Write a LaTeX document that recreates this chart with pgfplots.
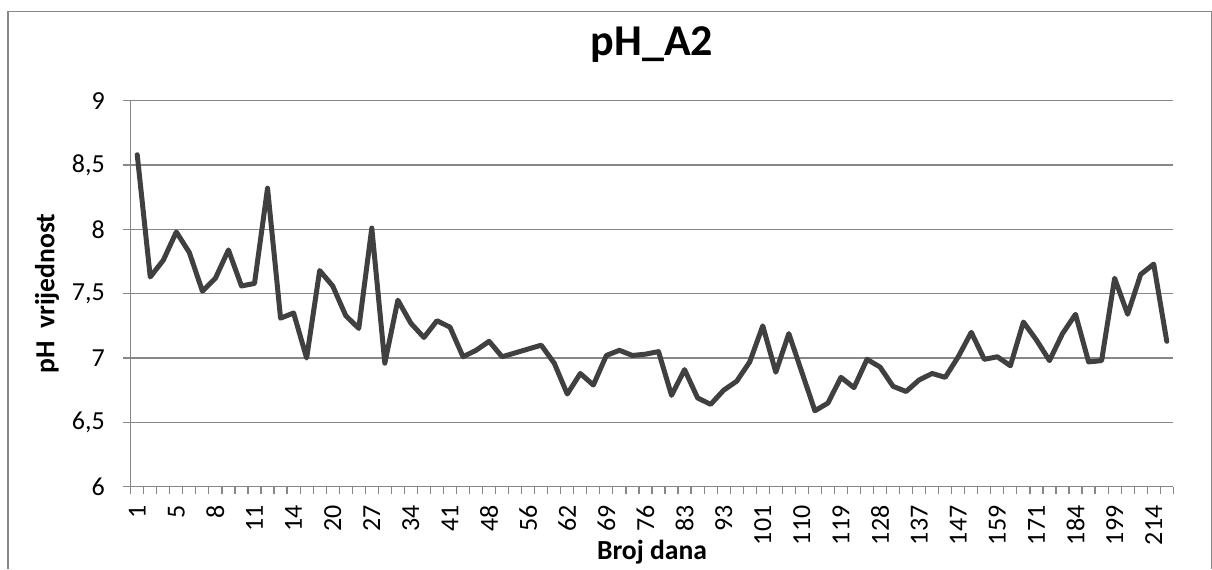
\documentclass[border=0pt]{standalone}
\usepackage{fontspec}
\setmainfont{Carlito}
\usepackage{pgfplots}
\pgfplotsset{compat=1.18}
\definecolor{gridgray}{HTML}{878787}
\definecolor{linegray}{HTML}{404040}
\pgfplotstableread{
x y
1 8.58
2 7.63
3 7.76
4 7.98
5 7.82
6 7.52
7 7.62
8 7.84
9 7.56
10 7.58
11 8.32
12 7.31
13 7.35
14 7.00
15 7.68
16 7.56
17 7.33
18 7.23
19 8.01
20 6.96
21 7.45
22 7.27
23 7.16
24 7.29
25 7.24
26 7.01
27 7.06
28 7.13
29 7.01
30 7.04
31 7.07
32 7.10
33 6.96
34 6.72
35 6.88
36 6.79
37 7.02
38 7.06
39 7.02
40 7.03
41 7.05
42 6.71
43 6.91
44 6.69
45 6.64
46 6.75
47 6.82
48 6.97
49 7.25
50 6.89
51 7.19
52 6.89
53 6.59
54 6.65
55 6.85
56 6.77
57 6.99
58 6.93
59 6.78
60 6.74
61 6.83
62 6.88
63 6.85
64 7.01
65 7.20
66 6.99
67 7.01
68 6.94
69 7.28
70 7.14
71 6.98
72 7.19
73 7.34
74 6.97
75 6.98
76 7.62
77 7.34
78 7.65
79 7.73
80 7.13
}\phdata
\begin{document}
\begin{tikzpicture}[x=1pt,y=1pt]
\useasboundingbox (0,0) rectangle (606,284.5);
\draw[gridgray, line width=0.6pt] (4,0) -- (4,278.65) -- (605.6,278.65) -- (605.6,0);
\begin{axis}[
  at={(65.35pt,41.15pt)}, anchor=south west,
  scale only axis, width=521.3pt, height=193pt,
  xmin=0.5, xmax=80.5, ymin=6, ymax=9,
  axis x line*=bottom, axis y line*=left,
  axis line style={gridgray, line width=0.6pt, -},
  ytick={6,6.5,7,7.5,8,8.5,9},
  yticklabels={6,{6,5},7,{7,5},8,{8,5},9},
  ymajorgrids,
  grid style={gridgray, line width=0.6pt},
  xtick={1,4,...,79},
  xticklabels={1,5,8,11,14,20,27,34,41,48,56,62,69,76,83,93,101,110,119,128,137,147,159,171,184,199,214},
  minor xtick={0.5,1.5,...,80.5},
  tick align=outside,
  major tick length=4pt,
  minor tick length=3.7pt,
  major x tick style={draw=none},
  minor x tick style={gridgray, line width=0.6pt},
  major y tick style={gridgray, line width=0.6pt},
  tick label style={font=\fontsize{13}{15}\selectfont, text=black},
  xticklabel style={rotate=90, anchor=east, inner sep=0pt},
  xticklabel shift=5.2pt,
  yticklabel style={anchor=east, inner sep=0pt},
  yticklabel shift=8.8pt,
  clip=false,
]
\addplot[linegray, line width=2.5pt, line join=round, line cap=round, mark=none] table[x=x, y=y] {\phdata};
\end{axis}
\node[font=\fontsize{22}{26}\selectfont\bfseries] at (326,262) {pH\_A2};
\node[font=\fontsize{13.8}{16}\selectfont\bfseries] at (326,8.3) {Broj dana};
\node[font=\fontsize{13.8}{16}\selectfont\bfseries, rotate=90] at (23.5,137.75) {pH\ \ vrijednost};
\end{tikzpicture}
\end{document}
